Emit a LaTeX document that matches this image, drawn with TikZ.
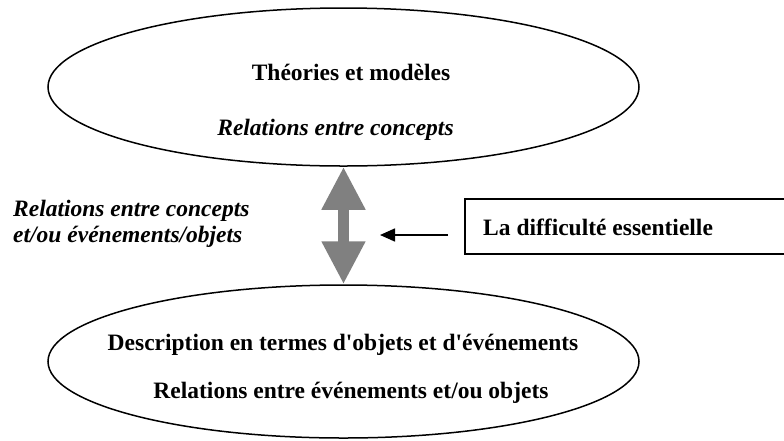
\documentclass[tikz,border=0pt]{standalone}
\usepackage{fontspec}
\setmainfont{Liberation Serif}
\usetikzlibrary{shapes.geometric,arrows.meta}
\definecolor{gris}{RGB}{128,128,128}
\tikzset{
    bulle/.style={draw,ellipse,line width=1.5pt,inner sep=0pt,minimum width=591pt},
    titre/.style={font=\fontsize{23.5}{26}\selectfont\bfseries,inner sep=0pt,anchor=base},
    note/.style={font=\fontsize{23.5}{26}\selectfont\bfseries\itshape,inner sep=0pt,anchor=base}
}

\begin{document}
\begin{tikzpicture}[x=1pt,y=-1pt]
    \useasboundingbox (0,0) rectangle (784,440);
    % ellipses
    \node[bulle,minimum height=158pt] (theorie) at (343.5,87) {};
    \node[titre] (theotitre) at (351,80) {Théories et modèles};
    \node[note] (theonote) at (335.5,135) {Relations entre concepts};
    \node[bulle,minimum height=153pt] (descr) at (343.5,361.5) {};
    \node[titre] (descrtitre) at (343,350) {Description en termes d\textquotesingle objets et d\textquotesingle événements};
    \node[titre] (descrnote) at (351,398) {Relations entre événements et/ou objets};
    % double fleche
    \draw[gris,line width=11pt,{Triangle[width=41pt,length=43pt]}-{Triangle[width=41pt,length=43pt]}] (theorie.south) -- (descr.north);
    \node[note,anchor=west,align=left] (lien) at (13,224) {Relations entre concepts\\et/ou événements/objets};
    % encadre
    \node[draw,line width=1.5pt,inner sep=0pt,minimum width=324pt,minimum height=55pt,anchor=west] (difficulte) at (464,226.5) {};
    \node[titre,anchor=base west] (diftexte) at (483,235) {La difficulté essentielle};
    \coordinate (depart) at (448,235);
    \coordinate (pointe) at (380,235);
    \draw[line width=1.6pt,-{Triangle[width=13pt,length=15pt]}] (depart) -- (pointe);
\end{tikzpicture}
\end{document}
